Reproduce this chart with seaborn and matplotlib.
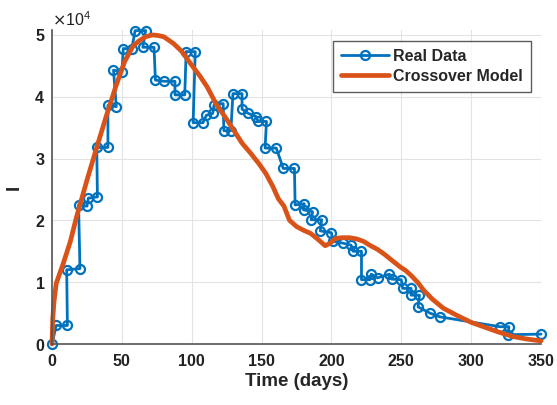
import numpy as np
import pandas as pd
import matplotlib
matplotlib.use("Agg")
import matplotlib.pyplot as plt
import seaborn as sns

# ─────────────────────────────────────────
# DATA
# ─────────────────────────────────────────
real_t = [0, 3, 11, 10.5, 20, 19, 25, 26, 32.5, 32, 40, 40, 46, 44, 50,
          51, 57, 59.5, 67, 65, 73, 74, 80, 88, 88, 95, 96, 102.5, 101, 108,
          110.5, 115, 116, 122.5, 123, 128, 129.5, 136, 136, 140.5, 146, 147.5,
          153.5, 152.5, 160.5, 165.5, 173.5, 174, 180.5, 180, 186.5, 185.5, 193,
          192, 200, 201, 208.5, 214, 215.5, 221.5, 221.5, 227.5, 228.5, 233,
          241.5, 243, 250, 251, 257, 257, 263, 262, 270.5, 277.5, 320.5, 327,
          326.5, 350]
real_I = [0, 3000, 3000, 12000, 12200, 22500, 22300, 23600, 23800, 31800,
          31800, 38600, 38400, 44300, 44000, 47800, 47700, 50700, 50700, 48000,
          48000, 42700, 42500, 42500, 40300, 40300, 47300, 47300, 35800, 35800,
          37000, 37300, 38700, 38900, 34500, 34500, 40500, 40500, 38000, 37300,
          36800, 36000, 36000, 31700, 31700, 28400, 28400, 22500, 22700, 21700,
          21400, 20100, 20100, 18300, 18000, 16600, 16300, 16000, 15000, 15000,
          10400, 10400, 11300, 10700, 11300, 10500, 10400, 9000, 9000, 7900,
          7900, 6000, 5000, 4400, 2800, 2800, 1500, 1600]

model_t = [0, 0.5, 1.4, 3, 8, 13, 17.6, 25, 32, 39, 46, 52, 58, 62, 67, 72,
           76, 80, 87, 93, 99, 106, 111, 118, 124, 130, 136, 142, 148, 153,
           158, 162, 166, 170, 175, 180, 185, 190, 195.5, 199, 203, 208, 213,
           218, 223, 228, 233, 238, 244, 249, 253, 257, 262, 266, 272, 280,
           290, 300, 310, 320, 330, 340, 350]
model_I = [0, 4000, 6800, 9800, 13000, 16500, 20600, 26500, 31800, 37000,
           41900, 45700, 48200, 49000, 49700, 50000, 49900, 49700, 48600, 47300,
           45400, 43300, 41600, 38600, 36700, 34600, 32500, 30900, 29200, 27600,
           25500, 23500, 22300, 20000, 19000, 18400, 17900, 17000, 15900, 16300,
           17100, 17200, 17200, 17000, 16600, 15900, 15300, 14500, 13400, 12500,
           11900, 11100, 9900, 8700, 7300, 5800, 4600, 3500, 2700, 1900, 1200,
           800, 500]

real = pd.DataFrame({'t': real_t, 'I': real_I})
model = pd.DataFrame({'t': model_t, 'I': model_I})

# ─────────────────────────────────────────
# STYLE
# ─────────────────────────────────────────
sns.set_theme(style="whitegrid")
plt.rcParams['font.family'] = ['Liberation Sans', 'DejaVu Sans']

BLUE = '#0072BD'
ORANGE = '#D95319'
AXIS_GRAY = '#555555'

fig = plt.figure(figsize=(5.57, 4.05), dpi=100)
ax = fig.add_axes([0.0934, 0.1506, 0.8779, 0.7754])

sns.lineplot(data=real, x='t', y='I', sort=False, estimator=None, ax=ax,
             color=BLUE, linewidth=2, marker='o', markersize=6.5,
             markerfacecolor='none', markeredgecolor=BLUE, markeredgewidth=1.6,
             label='Real Data', clip_on=False)
sns.lineplot(data=model, x='t', y='I', sort=False, estimator=None, ax=ax,
             color=ORANGE, linewidth=3.4, label='Crossover Model', clip_on=False)

ax.set_xlim(0, 350)
ax.set_ylim(0, 50800)
ax.set_xticks(np.arange(0, 351, 50))
ax.set_yticks(np.arange(0, 50001, 10000))
ax.ticklabel_format(axis='y', style='sci', scilimits=(4, 4), useMathText=True)
ax.yaxis.get_offset_text().set_fontsize(11.5)

ax.set_xlabel('Time (days)', fontsize=13.5, fontweight='bold', labelpad=3)
ax.set_ylabel('I', fontsize=13.5, fontweight='bold', labelpad=8)

for lbl in ax.get_xticklabels() + ax.get_yticklabels():
    lbl.set_fontweight('bold')
ax.tick_params(axis='both', labelsize=11.5, direction='in', length=3,
               colors=AXIS_GRAY, labelcolor='#222222')
ax.tick_params(axis='x', pad=7)
ax.tick_params(axis='y', pad=5)

ax.grid(True, color='#e3e3e3', linewidth=0.8)
ax.set_facecolor('white')
for side in ['top', 'right']:
    ax.spines[side].set_visible(False)
for side in ['left', 'bottom']:
    ax.spines[side].set_color(AXIS_GRAY)
    ax.spines[side].set_linewidth(1.2)

leg = ax.legend(loc='upper right', bbox_to_anchor=(0.995, 0.99),
                fontsize=11.5, frameon=True, fancybox=False,
                handlelength=3.0, handletextpad=0.25, borderpad=0.5,
                labelspacing=0.3)
leg.get_frame().set_edgecolor('#333333')
leg.get_frame().set_linewidth(1.0)
for txt in leg.get_texts():
    txt.set_fontweight('bold')

fig.savefig('out.png', dpi=100)
